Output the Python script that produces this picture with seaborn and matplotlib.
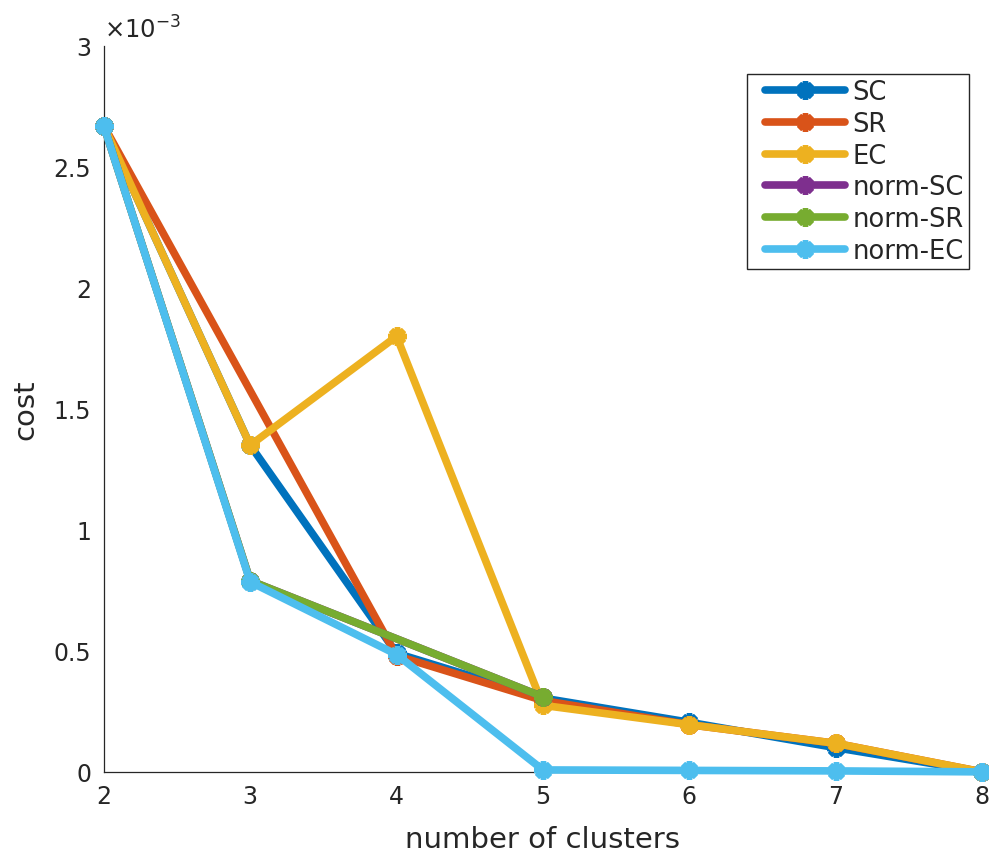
import matplotlib
matplotlib.use("Agg")
import matplotlib.pyplot as plt
from matplotlib.lines import Line2D
from matplotlib.legend_handler import HandlerLine2D
from matplotlib.ticker import FuncFormatter, MultipleLocator
import seaborn as sns

# cost per number of clusters (values in units of 1e-3)
k_all = [2, 3, 4, 5, 6, 7, 8]
sc_cost = [2.67, 1.35, 0.49, 0.305, 0.205, 0.10, 0.0]
k_sr = [2, 4, 5, 6, 7, 8]
sr_cost = [2.67, 0.48, 0.295, 0.195, 0.118, 0.0]
ec_cost = [2.67, 1.35, 1.80, 0.275, 0.195, 0.118, 0.0]
k_norm = [2, 3, 5]
norm_sc_cost = [2.67, 0.79, 0.31]
norm_sr_cost = [2.67, 0.79, 0.31]
norm_ec_cost = [2.67, 0.785, 0.485, 0.008, 0.006, 0.004, 0.0]

series_names = ["SC", "SR", "EC", "norm-SC", "norm-SR", "norm-EC"]
series_k = [k_all, k_sr, k_all, k_norm, k_norm, k_all]
series_cost = [sc_cost, sr_cost, ec_cost, norm_sc_cost, norm_sr_cost, norm_ec_cost]
series_colors = ["#0072BD", "#D95319", "#EDB120", "#7E2F8E", "#77AC30", "#4DBEEE"]
scale = 1e-3

sns.set_style("white")
plt.rcParams["font.family"] = ["DejaVu Sans"]
text_color = "#262626"

fig = plt.figure(figsize=(9.89, 8.54), dpi=100)
ax = fig.add_axes([0.105, 0.095, 0.888, 0.850])

for name, ks, cs, col in zip(series_names, series_k, series_cost, series_colors):
    sns.lineplot(x=ks, y=[c * scale for c in cs], ax=ax, color=col, label=name,
                 linewidth=5.5, marker=(8, 2, 0), markersize=13,
                 markeredgewidth=4, markeredgecolor=col, markerfacecolor=col,
                 clip_on=False, zorder=3)

ax.set_xlim(2, 8)
ax.set_ylim(0, 3e-3)
ax.xaxis.set_major_locator(MultipleLocator(1))
ax.yaxis.set_major_locator(MultipleLocator(0.5e-3))
ax.yaxis.set_major_formatter(FuncFormatter(lambda v, _: f"{v / scale:g}"))

for side in ("top", "right"):
    ax.spines[side].set_visible(False)
for side in ("left", "bottom"):
    ax.spines[side].set_color(text_color)
    ax.spines[side].set_linewidth(0.9)

ax.tick_params(direction="in", length=6, width=0.9, colors=text_color,
               labelsize=17, pad=9)
ax.set_xlabel("number of clusters", fontsize=21, color=text_color, labelpad=12)
ax.set_ylabel("cost", fontsize=21, color=text_color, labelpad=10)

ax.text(0.0, 1.005, r"$\times10^{-3}$", transform=ax.transAxes,
        fontsize=17.5, color=text_color, ha="left", va="bottom")

leg = ax.legend(loc="upper right", bbox_to_anchor=(0.985, 0.961),
                borderaxespad=0, fontsize=18.5, handlelength=3.62,
                handletextpad=0.27, labelspacing=0.22, borderpad=0.2,
                fancybox=False, framealpha=1, edgecolor=text_color,
                handler_map={Line2D: HandlerLine2D(xpad=0.47)})
leg.get_frame().set_linewidth(1.0)
for t in leg.get_texts():
    t.set_color(text_color)

fig.savefig("out.png", dpi=100)
